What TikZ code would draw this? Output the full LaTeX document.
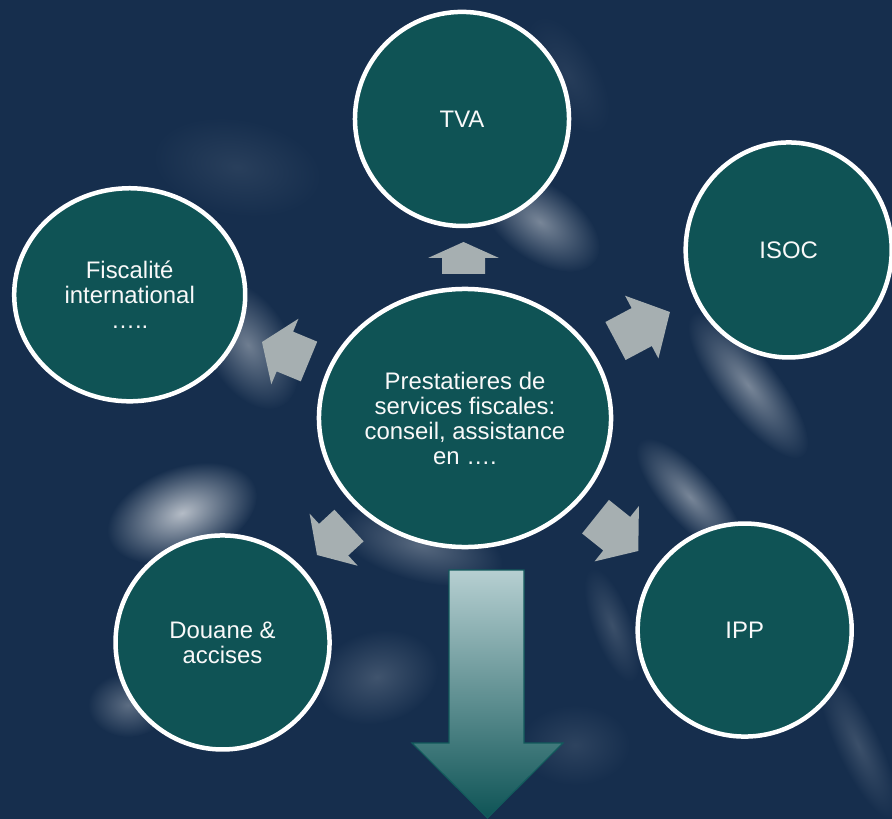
\documentclass[tikz,border=0pt]{standalone}
\usepackage{fontspec}
\setmainfont{Liberation Sans}
\usepackage{tikz}
\usetikzlibrary{calc}
\usetikzlibrary{positioning}
\usetikzlibrary{shapes}

\definecolor{bgblue}{RGB}{22,46,77}
\definecolor{bubblegreen}{RGB}{15,83,85}
\definecolor{arrowgrey}{RGB}{166,175,177}
\definecolor{arrtop}{RGB}{182,207,209}
\definecolor{arrmid}{RGB}{122,155,157}
\definecolor{arrbot}{RGB}{14,84,86}
\definecolor{arredge}{RGB}{18,90,92}

\tikzset{
  bubble/.style={ellipse, draw=white, line width=3.2pt, fill=bubblegreen,
    inner sep=0pt, align=center, text=white!95!gray,
    font=\fontsize{17}{17.8}\selectfont},
  glow/.style={inner color=white!#1!bgblue, outer color=bgblue},
}

% grey block arrow: tail, angle, length, head length
\newcommand{\fatarrow}[4]{%
  \fill[arrowgrey, shift={#1}, rotate=#2] (0,-21.5) -- ({#3-#4},-21.5) -- ({#3-#4},-35.5)
    -- (#3,0) -- ({#3-#4},35.5) -- ({#3-#4},21.5) -- (0,21.5) -- cycle;}

% soft light spot in the background: centre, angle, radii, strength
\newcommand{\glowspot}[5]{%
  \shade[glow=#5, transform canvas={shift={#1}, rotate=#2}] (0,0) ellipse (#3 and #4);}

\begin{document}
\begin{tikzpicture}[x=0.025cm, y=-0.025cm, node distance=1cm]
  \useasboundingbox (0,0) rectangle (892,819);
  \fill[bgblue] (0,0) rectangle (892,819);

  % Background
  \glowspot{(237,167)}{-10}{85}{48}{8}
  \glowspot{(248,345)}{30}{42}{70}{38}
  \glowspot{(568,75)}{-60}{65}{30}{7}
  \glowspot{(540,222)}{-35}{68}{38}{42}
  \glowspot{(748,385)}{-52}{90}{30}{42}
  \glowspot{(182,513)}{20}{78}{46}{68}
  \glowspot{(128,705)}{0}{40}{32}{30}
  \glowspot{(377,677)}{15}{62}{46}{18}
  \glowspot{(420,545)}{-15}{85}{36}{28}
  \glowspot{(690,497)}{-48}{75}{27}{42}
  \glowspot{(612,625)}{-70}{60}{20}{16}
  \glowspot{(858,745)}{-65}{80}{22}{16}
  \glowspot{(575,745)}{0}{55}{40}{10}

  % Nodes
  \node[bubble, minimum width=7.3cm, minimum height=6.45cm] (centre) at (465,418)
    {Prestatieres de\\services fiscales:\\conseil, assistance\\en ….};
  \node[bubble, minimum width=5.35cm, minimum height=5.35cm, on grid,
    above left=7.475cm and 0.075cm of centre] (tva) {TVA};
  \node[bubble, minimum width=5.15cm, minimum height=5.375cm, on grid,
    above right=4.2cm and 8.09cm of centre] (isoc) {ISOC};
  \node[bubble, minimum width=5.775cm, minimum height=5.325cm, on grid,
    above left=3.08cm and 8.38cm of centre] (fisc) {Fiscalité\\international\\…..};
  \node[bubble, minimum width=5.35cm, minimum height=5.35cm, on grid,
    below left=5.61cm and 6.06cm of centre] (douane) {Douane \&\\accises};
  \node[bubble, minimum width=5.35cm, minimum height=5.325cm, on grid,
    below right=5.3cm and 6.99cm of centre] (ipp) {IPP};

  % Arrows
  \fatarrow{(463.5,274)}{90}{32}{16}
  \fatarrow{(615.5,341)}{28}{61.7}{32}
  \fatarrow{(309,361.5)}{157.5}{50.9}{24.8}
  \fatarrow{(349,525.5)}{222.7}{43.5}{22.6}
  \fatarrow{(595.5,516.7)}{-38.7}{54.8}{27.6}

  % Down arrow
  \shade[top color=arrtop, middle color=arrmid, bottom color=arrbot,
    draw=arredge, line width=0.8pt]
    (449,570) -- (524,570) -- (524,743) -- (563,743) -- (487.5,818)
    -- (412,743) -- (449,743) -- cycle;
\end{tikzpicture}
\end{document}
